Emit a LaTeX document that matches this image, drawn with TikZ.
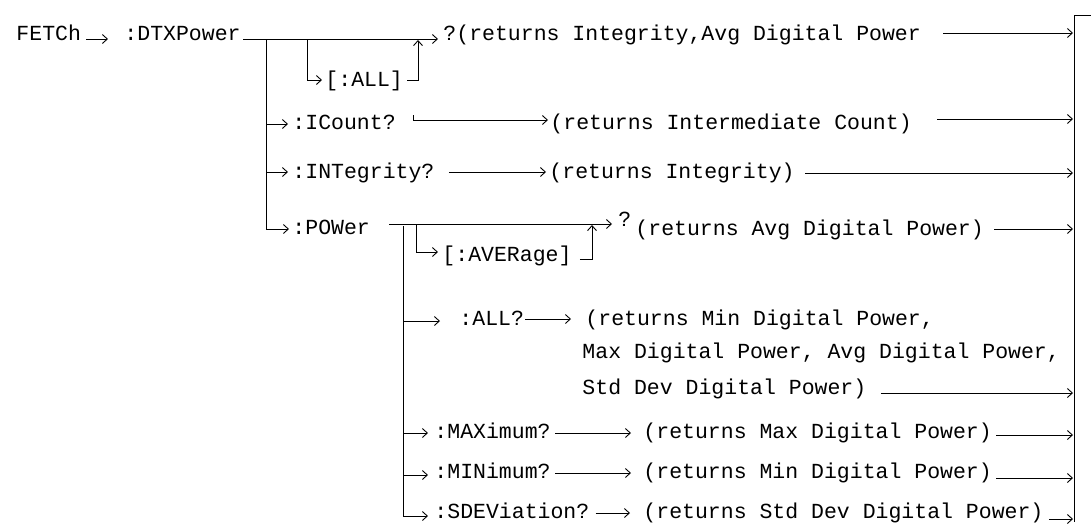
\documentclass[tikz,border=0pt]{standalone}
\usepackage{fontspec}
\setmonofont{Liberation Mono}
\usetikzlibrary{arrows.meta,calc}

\begin{document}
\begin{tikzpicture}[x=1pt,y=-1pt,line width=0.9pt,
  cmd/.style={font=\ttfamily\fontsize{21.5}{24}\selectfont,inner sep=0pt,anchor=west,text height=12pt,text depth=0pt},
  arr/.style={-{Straight Barb[length=5pt,width=9pt]}}]
  \useasboundingbox (0,0) rectangle (1091,531);
  % Screen convention: y=0 at top, y increases downward (y=-1pt).
  % Left column: FETCh :DTXPower and its four branches
  \node[cmd] (fetch)  at (16,34)   {FETCh};
  \node[cmd] (dtx)    at (124,34)  {:DTXPower};
  \node[cmd] (all)    at (325,80)  {[:ALL]};
  \node[cmd] (icount) at (292,123) {:ICount?};
  \node[cmd] (integ)  at (292,172) {:INTegrity?};
  \node[cmd] (power)  at (292,228) {:POWer};
  % :POWer sub-branches
  \node[cmd] (aver) at (442,255) {[:AVERage]};
  \node[cmd] (allq) at (459,319) {:ALL?};
  \node[cmd] (max)  at (434,432) {:MAXimum?};
  \node[cmd] (min)  at (434,472) {:MINimum?};
  \node[cmd] (sdev) at (434,512) {:SDEViation?};
  % Return texts
  \node[cmd] (q1)      at (443,34)  {?(returns Integrity,Avg Digital Power};
  \node[cmd] (ricount) at (550,123) {(returns Intermediate Count)};
  \node[cmd] (rinteg)  at (549,172) {(returns Integrity)};
  \node[cmd] (qpow)    at (618,220) {?};
  \node[cmd] (ravg)    at (635,229) {(returns Avg Digital Power)};
  \node[cmd] (rall1)   at (585,319) {(returns Min Digital Power,};
  \node[cmd] (rall2)   at (582,352) {Max Digital Power, Avg Digital Power,};
  \node[cmd] (rall3)   at (582,388) {Std Dev Digital Power)};
  \node[cmd] (rmax)    at (643,432) {(returns Max Digital Power)};
  \node[cmd] (rmin)    at (643,472) {(returns Min Digital Power)};
  \node[cmd] (rsdev)   at (643,512) {(returns Std Dev Digital Power)};
  % Junctions on the lines
  \coordinate (j1)     at (266,39);
  \coordinate (jall)   at (307,39);
  \coordinate (jallup) at (418,39);
  \coordinate (jp1)    at (416,224);
  \coordinate (jp2)    at (403,226);
  \coordinate (javer)  at (592,224);
  % Right bracket
  \coordinate (bartop) at (1074,15);
  \coordinate (barbot) at (1074,522);
  \draw (1091,15) -- (bartop) -- (barbot);
  % FETCh -> :DTXPower -> ?
  \draw[arr] ($(fetch.east)+(5,5)$) -- ($(dtx.west)+(-16,5)$);
  \draw[arr] ($(dtx.east)+(2,5)$) -- ($(q1.west)+(-5,5)$);
  \draw[arr] (jall) |- ($(all.west)+(-3,0)$);
  \draw[arr] ($(all.east)+(4,0)$) -| ($(jallup)+(0,1)$);
  % Branches from :DTXPower
  \draw[arr] (j1) |- ($(icount.west)+(-4,1)$);
  \draw[arr] (j1) |- ($(integ.west)+(-4,0)$);
  \draw[arr] (j1) |- ($(power.west)+(-3,1)$);
  \draw[arr] ($(icount.east)+(17,-8)$) |- ($(ricount.west)+(-2,-3)$);
  \draw[arr] ($(integ.east)+(14,0)$) -- ($(rinteg.west)+(-3,0)$);
  % :POWer
  \draw[arr] ($(power.east)+(19,-4)$) -- ($(qpow.west)+(-6,4)$);
  \draw[arr] (jp1) |- ($(aver.west)+(-4,-3)$);
  \draw[arr] ($(aver.east)+(8,4)$) -| ($(javer)+(0,1)$);
  \draw (jp2) -- ($(jp2)+(0,290)$);
  \draw[arr] (jp2) |- ($(allq.west)+(-19,2)$);
  \draw[arr] (jp2) |- ($(max.west)+(-6,1)$);
  \draw[arr] (jp2) |- ($(min.west)+(-6,3)$);
  \draw[arr] (jp2) |- ($(sdev.west)+(-6,4)$);
  \draw[arr] ($(allq.east)+(1,0)$) -- ($(rall1.west)+(-14,0)$);
  \draw[arr] ($(max.east)+(4,1)$) -- ($(rmax.west)+(-12,1)$);
  \draw[arr] ($(min.east)+(4,1)$) -- ($(rmin.west)+(-12,1)$);
  \draw[arr] ($(sdev.east)+(6,1)$) -- ($(rsdev.west)+(-13,1)$);
  % Returns -> right bracket
  \draw[arr] ($(q1.east)+(22,-1)$) -- ($(q1.east -| bartop)+(-1,-1)$);
  \draw[arr] ($(ricount.east)+(25,-4)$) -- ($(ricount.east -| bartop)+(-1,-4)$);
  \draw[arr] ($(rinteg.east)+(10,1)$) -- ($(rinteg.east -| bartop)+(-1,1)$);
  \draw[arr] ($(ravg.east)+(10,0)$) -- ($(ravg.east -| bartop)+(-1,0)$);
  \draw[arr] ($(rall3.east)+(14,5)$) -- ($(rall3.east -| bartop)+(-1,5)$);
  \draw[arr] ($(rmax.east)+(4,3)$) -- ($(rmax.east -| bartop)+(-1,3)$);
  \draw[arr] ($(rmin.east)+(4,6)$) -- ($(rmin.east -| bartop)+(-1,6)$);
  \draw[arr] ($(rsdev.east)+(5,7)$) -- ($(rsdev.east -| bartop)+(-1,7)$);
\end{tikzpicture}
\end{document}
